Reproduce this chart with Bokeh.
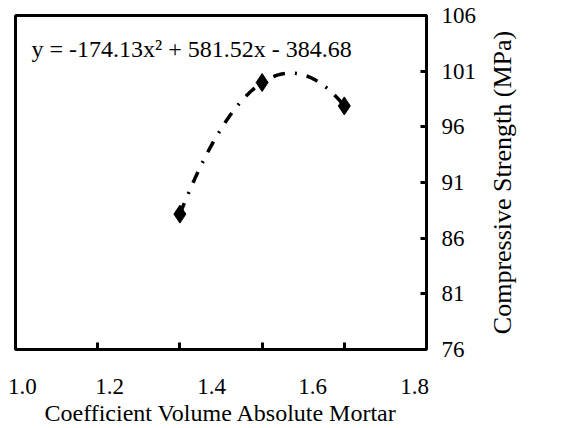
from bokeh.plotting import figure
from bokeh.models import LinearAxis, FixedTicker, Range1d, Label
from bokeh.layouts import row
from bokeh.embed import file_html
from bokeh.resources import INLINE
import numpy as np

# Data
x_values = [1.4, 1.6, 1.8]
strength = [88.16, 99.98, 97.88]
trend_coef = [-174.13, 581.52, -384.68]   # y = -174.13x^2 + 581.52x - 384.68
equation_text = "y = -174.13x\u00b2 + 581.52x - 384.68"
x_title = "Coefficient Volume Absolute Mortar"
y_title = "Compressive Strength (MPa)"

x_tick_labels = ["1.0", "1.2", "1.4", "1.6", "1.8"]
y_ticks = [76, 81, 86, 91, 96, 101, 106]
x_tick_marks = [1.2, 1.4, 1.6, 1.8]

# layout: where the x labels sit along the axis (as in the reference)
label_pos = [1.017, 1.229, 1.477, 1.723, 1.971]

FONT = "Liberation Serif"

p = figure(frame_width=411, frame_height=334,
           x_range=Range1d(1.0, 2.0), y_range=Range1d(76, 106),
           y_axis_location="right", output_backend="svg", toolbar_location=None,
           min_border_left=15, min_border_top=15, min_border_right=58, min_border_bottom=2)
p.grid.visible = False
p.outline_line_color = "black"
p.outline_line_width = 3
p.background_fill_color = "white"
p.border_fill_color = "white"

# bottom tick-mark axis (no labels)
xa = p.xaxis[0]
xa.ticker = FixedTicker(ticks=x_tick_marks)
xa.major_tick_in = 7
xa.major_tick_out = 0
xa.major_tick_line_width = 3
xa.major_tick_line_color = "black"
xa.minor_tick_line_color = None
xa.axis_line_color = None
xa.major_label_text_font = FONT
xa.major_label_overrides = {t: " " for t in x_tick_marks}
xa.major_label_text_font_size = "2px"
xa.major_label_standoff = 0

# bottom label axis
xl = LinearAxis(ticker=FixedTicker(ticks=label_pos),
                major_label_overrides={pos: lab for pos, lab in zip(label_pos, x_tick_labels)})
xl.major_tick_line_color = None
xl.minor_tick_line_color = None
xl.axis_line_color = None
xl.major_label_text_font = FONT
xl.major_label_text_font_size = "23px"
xl.major_label_text_color = "black"
xl.major_label_standoff = 18
xl.axis_label = x_title
xl.axis_label_text_font = FONT
xl.axis_label_text_font_size = "24px"
xl.axis_label_text_font_style = "normal"
xl.axis_label_text_color = "black"
xl.axis_label_standoff = 3
p.add_layout(xl, "below")

# right y axis (ticks + labels)
ya = p.yaxis[0]
ya.ticker = FixedTicker(ticks=y_ticks)
ya.major_tick_in = 6
ya.major_tick_out = 0
ya.major_tick_line_width = 3
ya.minor_tick_line_color = None
ya.axis_line_color = None
ya.major_label_text_font = FONT
ya.major_label_text_font_size = "23px"
ya.major_label_text_color = "black"
ya.major_label_standoff = 15

# trendline from the shown equation
xs = np.linspace(x_values[0], x_values[-1], 200)
ys = np.polyval(trend_coef, xs)
p.line(xs, ys, line_color="black", line_width=3.5, line_dash="12 10 2 10")

p.scatter(x_values, strength, marker="diamond", size=18, color="black")

eq = Label(x=1.039, y=103.0, text=equation_text, text_font=FONT,
           text_font_size="24px", text_baseline="alphabetic", text_color="black")
p.add_layout(eq)

# narrow side panel carrying the y title, reading bottom-to-top
p2 = figure(frame_width=2, frame_height=334, x_range=Range1d(0, 1), y_range=Range1d(76, 106),
            output_backend="svg", toolbar_location=None,
            min_border_left=0, min_border_top=15, min_border_right=0, min_border_bottom=2)
p2.grid.visible = False
p2.outline_line_color = None
p2.xaxis.visible = False
p2.background_fill_color = "white"
p2.border_fill_color = "white"
a2 = p2.yaxis[0]
a2.ticker = FixedTicker(ticks=[])
a2.axis_line_color = None
a2.major_tick_line_color = None
a2.minor_tick_line_color = None
a2.major_label_standoff = 0
a2.axis_label = y_title
a2.axis_label_text_font = FONT
a2.axis_label_text_font_size = "26px"
a2.axis_label_text_font_style = "normal"
a2.axis_label_text_color = "black"
a2.axis_label_standoff = 0

layout = row(p, p2, spacing=0)
open("out.html", "w").write(file_html(layout, INLINE))
